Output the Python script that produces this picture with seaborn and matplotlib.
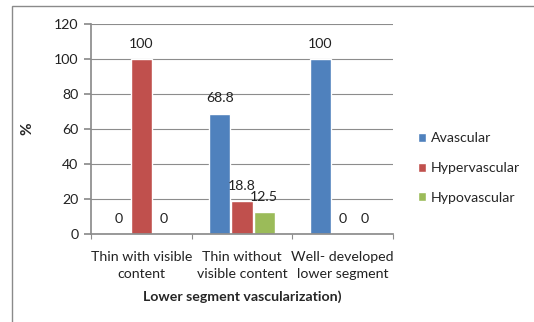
import matplotlib
matplotlib.use("Agg")
import matplotlib.pyplot as plt
import seaborn as sns
import pandas as pd
from matplotlib.patches import Rectangle

categories = ["Thin with visible\ncontent", "Thin without\nvisible content", "Well- developed\nlower segment"]
series = ["Avascular", "Hypervascular", "Hypovascular"]
avascular = [0, 68.8, 100]
hypervascular = [100, 18.8, 0]
hypovascular = [0, 12.5, 0]
label_avascular = ["0", "68.8", "100"]
label_hypervascular = ["100", "18.8", "0"]
label_hypovascular = ["0", "12.5", "0"]
yticks = [0, 20, 40, 60, 80, 100, 120]
colors = ["#4F81BD", "#C0504D", "#9BBB59"]

rows = []
for s, vals in zip(series, [avascular, hypervascular, hypovascular]):
    for c, v in zip(categories, vals):
        rows.append({"category": c, "series": s, "value": v})
df = pd.DataFrame(rows)

sns.set_theme(style="white")
plt.rcParams["font.family"] = ["Lato", "DejaVu Sans"]

fig = plt.figure(figsize=(5.34, 3.22), dpi=100)
ax = fig.add_axes([91/534, 1-234/322, (393-91)/534, (234-24)/322])

sns.barplot(data=df, x="category", y="value", hue="series", order=categories,
            hue_order=series, palette=colors, width=0.66, gap=0.05,
            saturation=1, ax=ax, errorbar=None)

FS = 10.2
ax.set_ylim(0, 120)
ax.set_xlim(-0.5, 2.5)
ax.set_yticks(yticks)
ax.set_yticklabels([str(t) for t in yticks], fontsize=FS, color="#222222")
for side in ["top", "right"]:
    ax.spines[side].set_visible(False)
ax.spines["left"].set_color("#8c8c8c")
ax.spines["bottom"].set_color("#8c8c8c")
ax.tick_params(axis="y", which="major", left=True, length=5, color="#8c8c8c", pad=4)

ax.set_xticks([0, 1, 2])
ax.set_xticklabels(categories, fontsize=FS, color="#222222", linespacing=1.55)
ax.tick_params(axis="x", which="major", bottom=False, pad=6)

# category boundary tick marks below the x axis
ax.vlines([-0.5, 0.5, 1.5, 2.5], 0, -0.024, transform=ax.get_xaxis_transform(),
          colors="#8c8c8c", linewidth=0.8, clip_on=False)

ax.xaxis.grid(False, which="both")
ax.yaxis.grid(True, which="major", color="#8c8c8c", linewidth=0.8)
ax.set_axisbelow(True)

ax.set_xlabel("Lower segment vascularization)", fontsize=FS, fontweight="bold", labelpad=7)
ax.set_ylabel("%", fontsize=11, fontweight="bold", labelpad=14)

for cont, labels in zip(ax.containers, [label_avascular, label_hypervascular, label_hypovascular]):
    for patch, lab in zip(cont.patches, labels):
        x = patch.get_x() + patch.get_width() / 2
        y = patch.get_height()
        ax.annotate(lab, (x, y), xytext=(0, 11), textcoords="offset points",
                    ha="center", va="center", fontsize=FS, color="#222222")

handles, labs = ax.get_legend_handles_labels()
ax.legend(handles, labs, loc="center left", bbox_to_anchor=(405/534, 1-168/322),
          bbox_transform=fig.transFigure, frameon=False, fontsize=FS,
          handlelength=0.6, handleheight=0.6, handletextpad=0.3, labelspacing=1.25)

fig.patches.append(Rectangle((12/534, -0.05), 1.1, 1-6/322+0.05, transform=fig.transFigure,
                             fill=False, edgecolor="#8a8a8a", linewidth=1.0))

fig.savefig("out.png", dpi=100)
